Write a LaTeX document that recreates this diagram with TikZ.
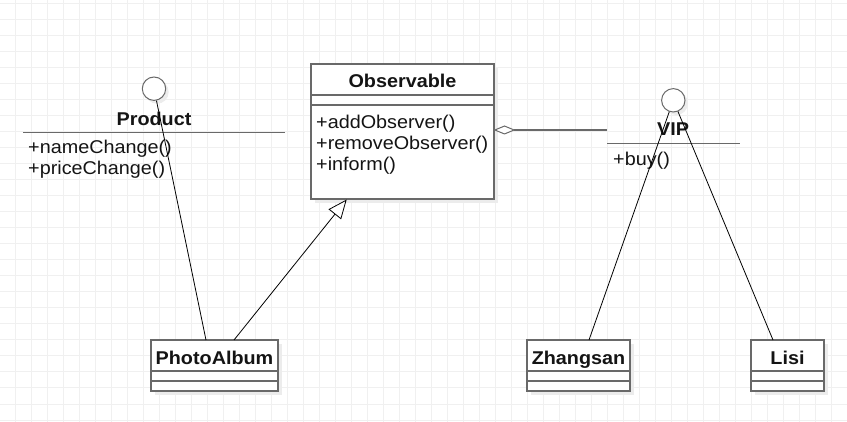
\documentclass[tikz,border=0pt]{standalone}
\usepackage{fontspec}
\setmainfont[FakeStretch=1.07]{Liberation Sans}
\usetikzlibrary{arrows.meta}
\definecolor{gridc}{RGB}{240,240,240}
\definecolor{bordc}{RGB}{105,105,105}
\definecolor{txtc}{RGB}{20,20,20}
\definecolor{shadc}{RGB}{236,236,236}
\tikzset{
  classbox/.style={draw=bordc, line width=1.5pt, fill=white, inner sep=0pt},
  shadowbox/.style={fill=shadc, draw=none, inner sep=0pt},
  divline/.style={draw=bordc, line width=1.5pt},
  lbl/.style={inner sep=0pt, anchor=base, text=txtc, font=\fontsize{18.5}{21}\selectfont},
  blbl/.style={lbl, font=\fontsize{18.5}{21}\selectfont\bfseries},
  mlbl/.style={lbl, anchor=base west},
  iface/.style={circle, draw=bordc, line width=1pt, fill=white, minimum size=23.4pt, inner sep=0pt},
  conn/.style={draw=black, line width=0.8pt},
}
\begin{document}
\begin{tikzpicture}[x=1pt, y=-1pt]
\useasboundingbox (0,0) rectangle (847,422);
\fill[white] (0,0) rectangle (847,422);
% grid
\foreach \gx in {15,31,...,847} \draw[gridc, line width=1pt] (\gx,0) -- (\gx,422);
\foreach \gy in {4,20,...,422} \draw[gridc, line width=1pt] (0,\gy) -- (847,\gy);

% shadows
\node[shadowbox, minimum width=183pt, minimum height=135pt] at (406.5,135.5) {};
\node[shadowbox, minimum width=127pt, minimum height=51pt] at (218.5,369.5) {};
\node[shadowbox, minimum width=103pt, minimum height=51pt] at (582.5,369.5) {};
\node[shadowbox, minimum width=73pt, minimum height=51pt] at (791.5,369.5) {};
\fill[shadc] (157,92) circle (11.7);
\fill[shadc] (676.3,103.3) circle (11.7);

% Observable
\node[classbox, minimum width=183pt, minimum height=135pt] (obs) at (402.5,131.5) {};
\node[blbl] (obstitle) at (402.5,88) {Observable};
\draw[divline] ([yshift=-32pt]obs.north west) -- ([yshift=-32pt]obs.north east);
\draw[divline] ([yshift=-42pt]obs.north west) -- ([yshift=-42pt]obs.north east);
\node[mlbl] (m1) at (316,129) {+addObserver()};
\node[mlbl] (m2) at (316,150) {+removeObserver()};
\node[mlbl] (m3) at (316,170.5) {+inform()};

% Product (interface)
\node[iface] (prodc) at (154,88.7) {};
\node[blbl] (prodt) at (154,126) {Product};
\coordinate (prodl) at (23,132.7);
\coordinate (prodr) at (285,132.7);
\draw[divline] (prodl) -- (prodr);
\node[mlbl] (p1) at (28,154) {+nameChange()};
\node[mlbl] (p2) at (28,175) {+priceChange()};

% VIP (interface)
\node[iface] (vipc) at (673.3,100.3) {};
\node[blbl] (vipt) at (673,136) {VIP};
\coordinate (vipl) at (607,143.3);
\coordinate (vipr) at (740,143.3);
\draw[divline] (vipl) -- (vipr);
\node[mlbl] (v1) at (613,166) {+buy()};

% PhotoAlbum
\node[classbox, minimum width=127pt, minimum height=51pt] (pa) at (214.5,365.5) {};
\node[blbl] (pat) at (214.5,365) {PhotoAlbum};
\draw[divline] ([yshift=-32pt]pa.north west) -- ([yshift=-32pt]pa.north east);
\draw[divline] ([yshift=-41.7pt]pa.north west) -- ([yshift=-41.7pt]pa.north east);

% Zhangsan
\node[classbox, minimum width=103pt, minimum height=51pt] (zs) at (578.5,365.5) {};
\node[blbl] (zst) at (578.5,365) {Zhangsan};
\draw[divline] ([yshift=-32pt]zs.north west) -- ([yshift=-32pt]zs.north east);
\draw[divline] ([yshift=-41.7pt]zs.north west) -- ([yshift=-41.7pt]zs.north east);

% Lisi
\node[classbox, minimum width=73pt, minimum height=51pt] (ls) at (787.5,365.5) {};
\node[blbl] (lst) at (787.5,365) {Lisi};
\draw[divline] ([yshift=-32pt]ls.north west) -- ([yshift=-32pt]ls.north east);
\draw[divline] ([yshift=-41.7pt]ls.north west) -- ([yshift=-41.7pt]ls.north east);

% connectors
\coordinate (paA) at (206,340);
\coordinate (paB) at (234,340);
\coordinate (obsB) at (346.7,199.5);
\coordinate (obsR) at (494,130);
\coordinate (zsA) at (589,340);
\coordinate (lsA) at (773,340);

\draw[conn] (prodc) -- (paA);
\draw[conn, -{Triangle[open, length=19pt, width=16pt, fill=white]}] (paB) -- (obsB);
\draw[draw=bordc, line width=1.5pt, {Diamond[open, length=22pt, width=9pt, line width=1pt, fill=white]}-, shorten <=-0.5pt] (obsR) -- (vipl |- obsR) coordinate (aggEnd);
\draw[conn] (vipc) -- (zsA);
\draw[conn] (vipc) -- (lsA);
\end{tikzpicture}
\end{document}
